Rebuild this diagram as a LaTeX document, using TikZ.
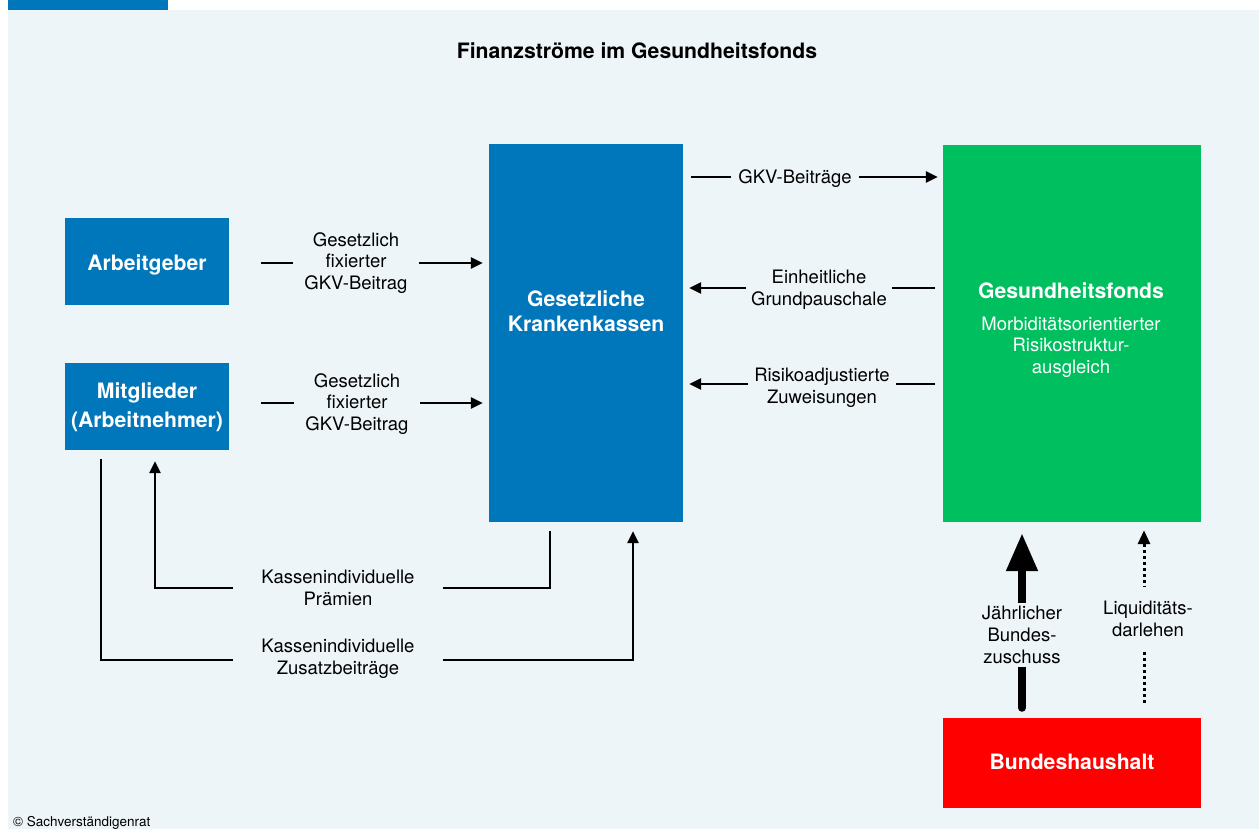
\documentclass[tikz,border=0pt]{standalone}
\usepackage{fontspec}
\setmainfont{TeX Gyre Heros}
\usetikzlibrary{arrows.meta}
\definecolor{bg}{HTML}{EDF5F8}
\definecolor{svblue}{HTML}{0077BB}
\definecolor{svgreen}{HTML}{00BF5F}
\definecolor{svred}{HTML}{FF0000}
\newcommand{\regf}{\fontsize{18.5}{21.7}\selectfont}
\newcommand{\boldf}{\fontsize{21.2}{29}\selectfont\bfseries}
\begin{document}
\begin{tikzpicture}[x=1pt,y=-1pt,
  box/.style={draw=none, inner sep=0pt, text=white, align=center, font=\boldf},
  boxtext/.style={text=white, align=center, inner sep=0pt},
  lbl/.style={fill=bg, align=center, font=\regf, inner xsep=11pt, inner ysep=2pt},
  flow/.style={line width=2.5pt, -{Triangle[length=12pt,width=11pt]}},
  plainline/.style={line width=2.5pt}]
\useasboundingbox (0,0) rectangle (1259,829);
\fill[white] (0,0) rectangle (1259,829);
\fill[bg] (8,10) rectangle (1259,829);
\fill[svblue] (8,0) rectangle (168,10);

% title
\node[font=\boldf] (title) at (637,51) {Finanzströme im Gesundheitsfonds};

% boxes
\node[box, fill=svblue, minimum width=164pt, minimum height=87pt] (ag) at (147,261.5) {};
\node[boxtext, font=\boldf] (agt) at (147,265) {Arbeitgeber};
\node[box, fill=svblue, minimum width=164pt, minimum height=87pt] (mg) at (147,406.5) {};
\node[boxtext, font=\boldf] (mgt) at (147,407.5) {Mitglieder\\(Arbeitnehmer)};
\node[box, fill=svblue, minimum width=194pt, minimum height=378pt] (kk) at (586,333) {};
\node[boxtext, font=\fontsize{21.2}{25}\selectfont\bfseries] (kkt) at (586,311) {Gesetzliche\\Krankenkassen};
\node[box, fill=svgreen, minimum width=258pt, minimum height=377pt] (gf) at (1072,333.5) {};
\node[boxtext, font=\boldf] (gft) at (1071,291) {Gesundheitsfonds};
\node[boxtext, font=\regf] (gfs) at (1071,347) {Morbiditätsorientierter\\Risikostruktur-\\ausgleich};
\node[box, fill=svred, minimum width=258pt, minimum height=90pt] (bh) at (1072,763) {};
\node[boxtext, font=\boldf] (bht) at (1072,762) {Bundeshaushalt};

% helper coordinates
\coordinate (r1) at (0,177);
\coordinate (r2) at (0,288);
\coordinate (r3) at (0,384);
\coordinate (p1) at (155,588);
\coordinate (z1) at (633,660);
\coordinate (fz) at (1022,0);
\coordinate (fl) at (1144,0);

% Arbeitgeber -> KK
\draw[flow, shorten <=32pt, shorten >=6pt] ([yshift=-1.5pt]ag.east) -- ([yshift=-1.5pt]ag.east -| kk.west);
\node[lbl] (l1) at (356,263) {Gesetzlich\\fixierter\\GKV-Beitrag};

% Mitglieder -> KK
\draw[flow, shorten <=32pt, shorten >=6pt] ([yshift=3.5pt]mg.east) -- ([yshift=3.5pt]mg.east -| kk.west);
\node[lbl] (l2) at (357,404) {Gesetzlich\\fixierter\\GKV-Beitrag};

% KK -> GF
\draw[flow, shorten <=8pt, shorten >=5pt] (kk.east |- r1) -- (gf.west |- r1);
\node[lbl, inner xsep=7pt] (l3) at (795,178.5) {GKV-Beiträge};

% GF -> KK
\draw[flow, shorten <=8pt, shorten >=6pt] (gf.west |- r2) -- (kk.east |- r2);
\node[lbl, inner xsep=5pt] (l4) at (819,290) {Einheitliche\\Grundpauschale};
\draw[flow, shorten <=8pt, shorten >=6pt] (gf.west |- r3) -- (kk.east |- r3);
\node[lbl, inner xsep=6pt] (l5) at (822,388) {Risikoadjustierte\\Zuweisungen};

% Praemien: KK -> Mitglieder
\draw[flow, shorten >=11pt] ([shift={(-36pt,-9pt)}]kk.south) |- (p1) -- (p1 |- mg.south);
\node[lbl, inner xsep=28pt] (l6) at (338,588) {Kassenindividuelle\\Prämien};

% Zusatzbeitraege: Mitglieder -> KK
\draw[flow, shorten >=9pt] ([shift={(-46pt,-9pt)}]mg.south) |- (z1) -- (z1 |- kk.south);
\node[lbl, inner xsep=28pt] (l7) at (338,659) {Kassenindividuelle\\Zusatzbeiträge};

% Bundeszuschuss
\draw[line width=8pt, line cap=round, -{Triangle[length=38pt,width=30pt]}, shorten <=10pt, shorten >=11pt] (bh.north -| fz) -- (gf.south -| fz);
\node[lbl, inner xsep=4pt, inner ysep=3pt] (l8) at (1022,635) {Jährlicher\\Bundes-\\zuschuss};

% Liquiditaetsdarlehen
\draw[line width=3pt, dash pattern=on 3pt off 3pt, -{Triangle[length=14pt,width=12pt]}, shorten <=15pt, shorten >=8pt] (bh.north -| fl) -- (gf.south -| fl);
\node[lbl, inner xsep=4pt, inner ysep=14pt] (l9) at (1148,619) {Liquiditäts-\\darlehen};

% copyright
\node[anchor=base west, inner sep=0pt, font=\fontsize{13.5}{15}\selectfont] (cr) at (13,826) {© Sachverständigenrat};
\end{tikzpicture}
\end{document}
